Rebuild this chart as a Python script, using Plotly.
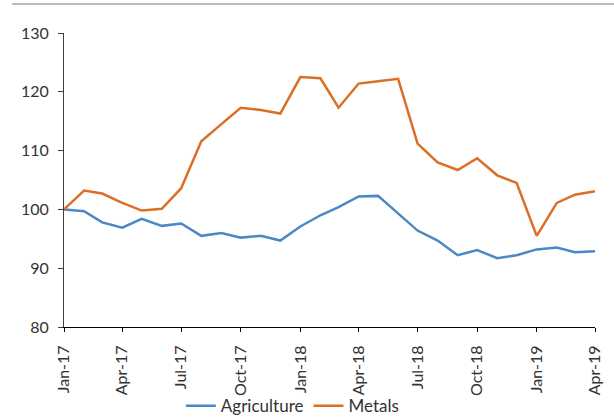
import plotly.graph_objects as go
import pandas as pd

months = pd.date_range("2017-01-01", "2019-04-01", freq="MS")
agriculture = [100.0, 99.7, 97.8, 96.9, 98.4, 97.2, 97.6, 95.5, 96.0, 95.2, 95.5, 94.7,
               97.1, 99.0, 100.4, 102.2, 102.3, 99.3, 96.4, 94.7, 92.2, 93.1, 91.7, 92.2,
               93.2, 93.5, 92.7, 92.9]
metals = [100.0, 103.2, 102.7, 101.1, 99.8, 100.1, 103.6, 111.6, 114.5, 117.3, 116.9, 116.3,
          122.5, 122.3, 117.3, 121.4, 121.8, 122.2, 111.2, 108.0, 106.7, 108.7, 105.8, 104.5,
          95.5, 101.1, 102.5, 103.1]
y_ticks = [80, 90, 100, 110, 120, 130]

font_family = "Lato, 'Open Sans', sans-serif"
text_color = "#333333"

fig = go.Figure()
fig.add_trace(go.Scatter(x=months, y=agriculture, name="Agriculture", mode="lines",
                         line=dict(color="#4A89C5", width=2.5)))
fig.add_trace(go.Scatter(x=months, y=metals, name="Metals", mode="lines",
                         line=dict(color="#DB6F27", width=2.5)))

fig.update_layout(
    width=614, height=420,
    margin=dict(l=64, r=19, t=33, b=93, autoexpand=False),
    plot_bgcolor="white", paper_bgcolor="white",
    font=dict(family=font_family, size=16, color=text_color),
    showlegend=True,
    legend=dict(orientation="h", x=0.43, xanchor="center", yref="container", y=0.033,
                yanchor="middle", font=dict(size=17, color=text_color), itemwidth=30,
                tracegroupgap=0, bgcolor="rgba(0,0,0,0)"),
    xaxis=dict(type="date", range=[months[0], months[-1]], dtick="M3", tick0="2017-01-01",
               tickformat="%b-%y", tickangle=-90, showgrid=False, showline=True,
               linecolor="black", linewidth=1, ticks="outside", ticklen=4,
               tickcolor="black", tickfont=dict(size=16, color=text_color), zeroline=False,
               automargin=False, ticklabelstandoff=7),
    yaxis=dict(range=[80, 130], tickvals=y_ticks, showgrid=False, showline=True,
               linecolor="#404040", linewidth=1, ticks="outside", ticklen=5,
               tickcolor="#404040", tickfont=dict(size=16, color=text_color), zeroline=False,
               ticklabelstandoff=6, automargin=False),
    shapes=[dict(type="line", xref="paper", yref="paper", x0=-52/531, x1=550/531,
                 y0=1 + 29/294, y1=1 + 29/294, line=dict(color="#A6A6A6", width=1.5))],
)

fig.write_html("out.html", config={"displayModeBar": False},
               post_script="document.body.style.margin='0';")
